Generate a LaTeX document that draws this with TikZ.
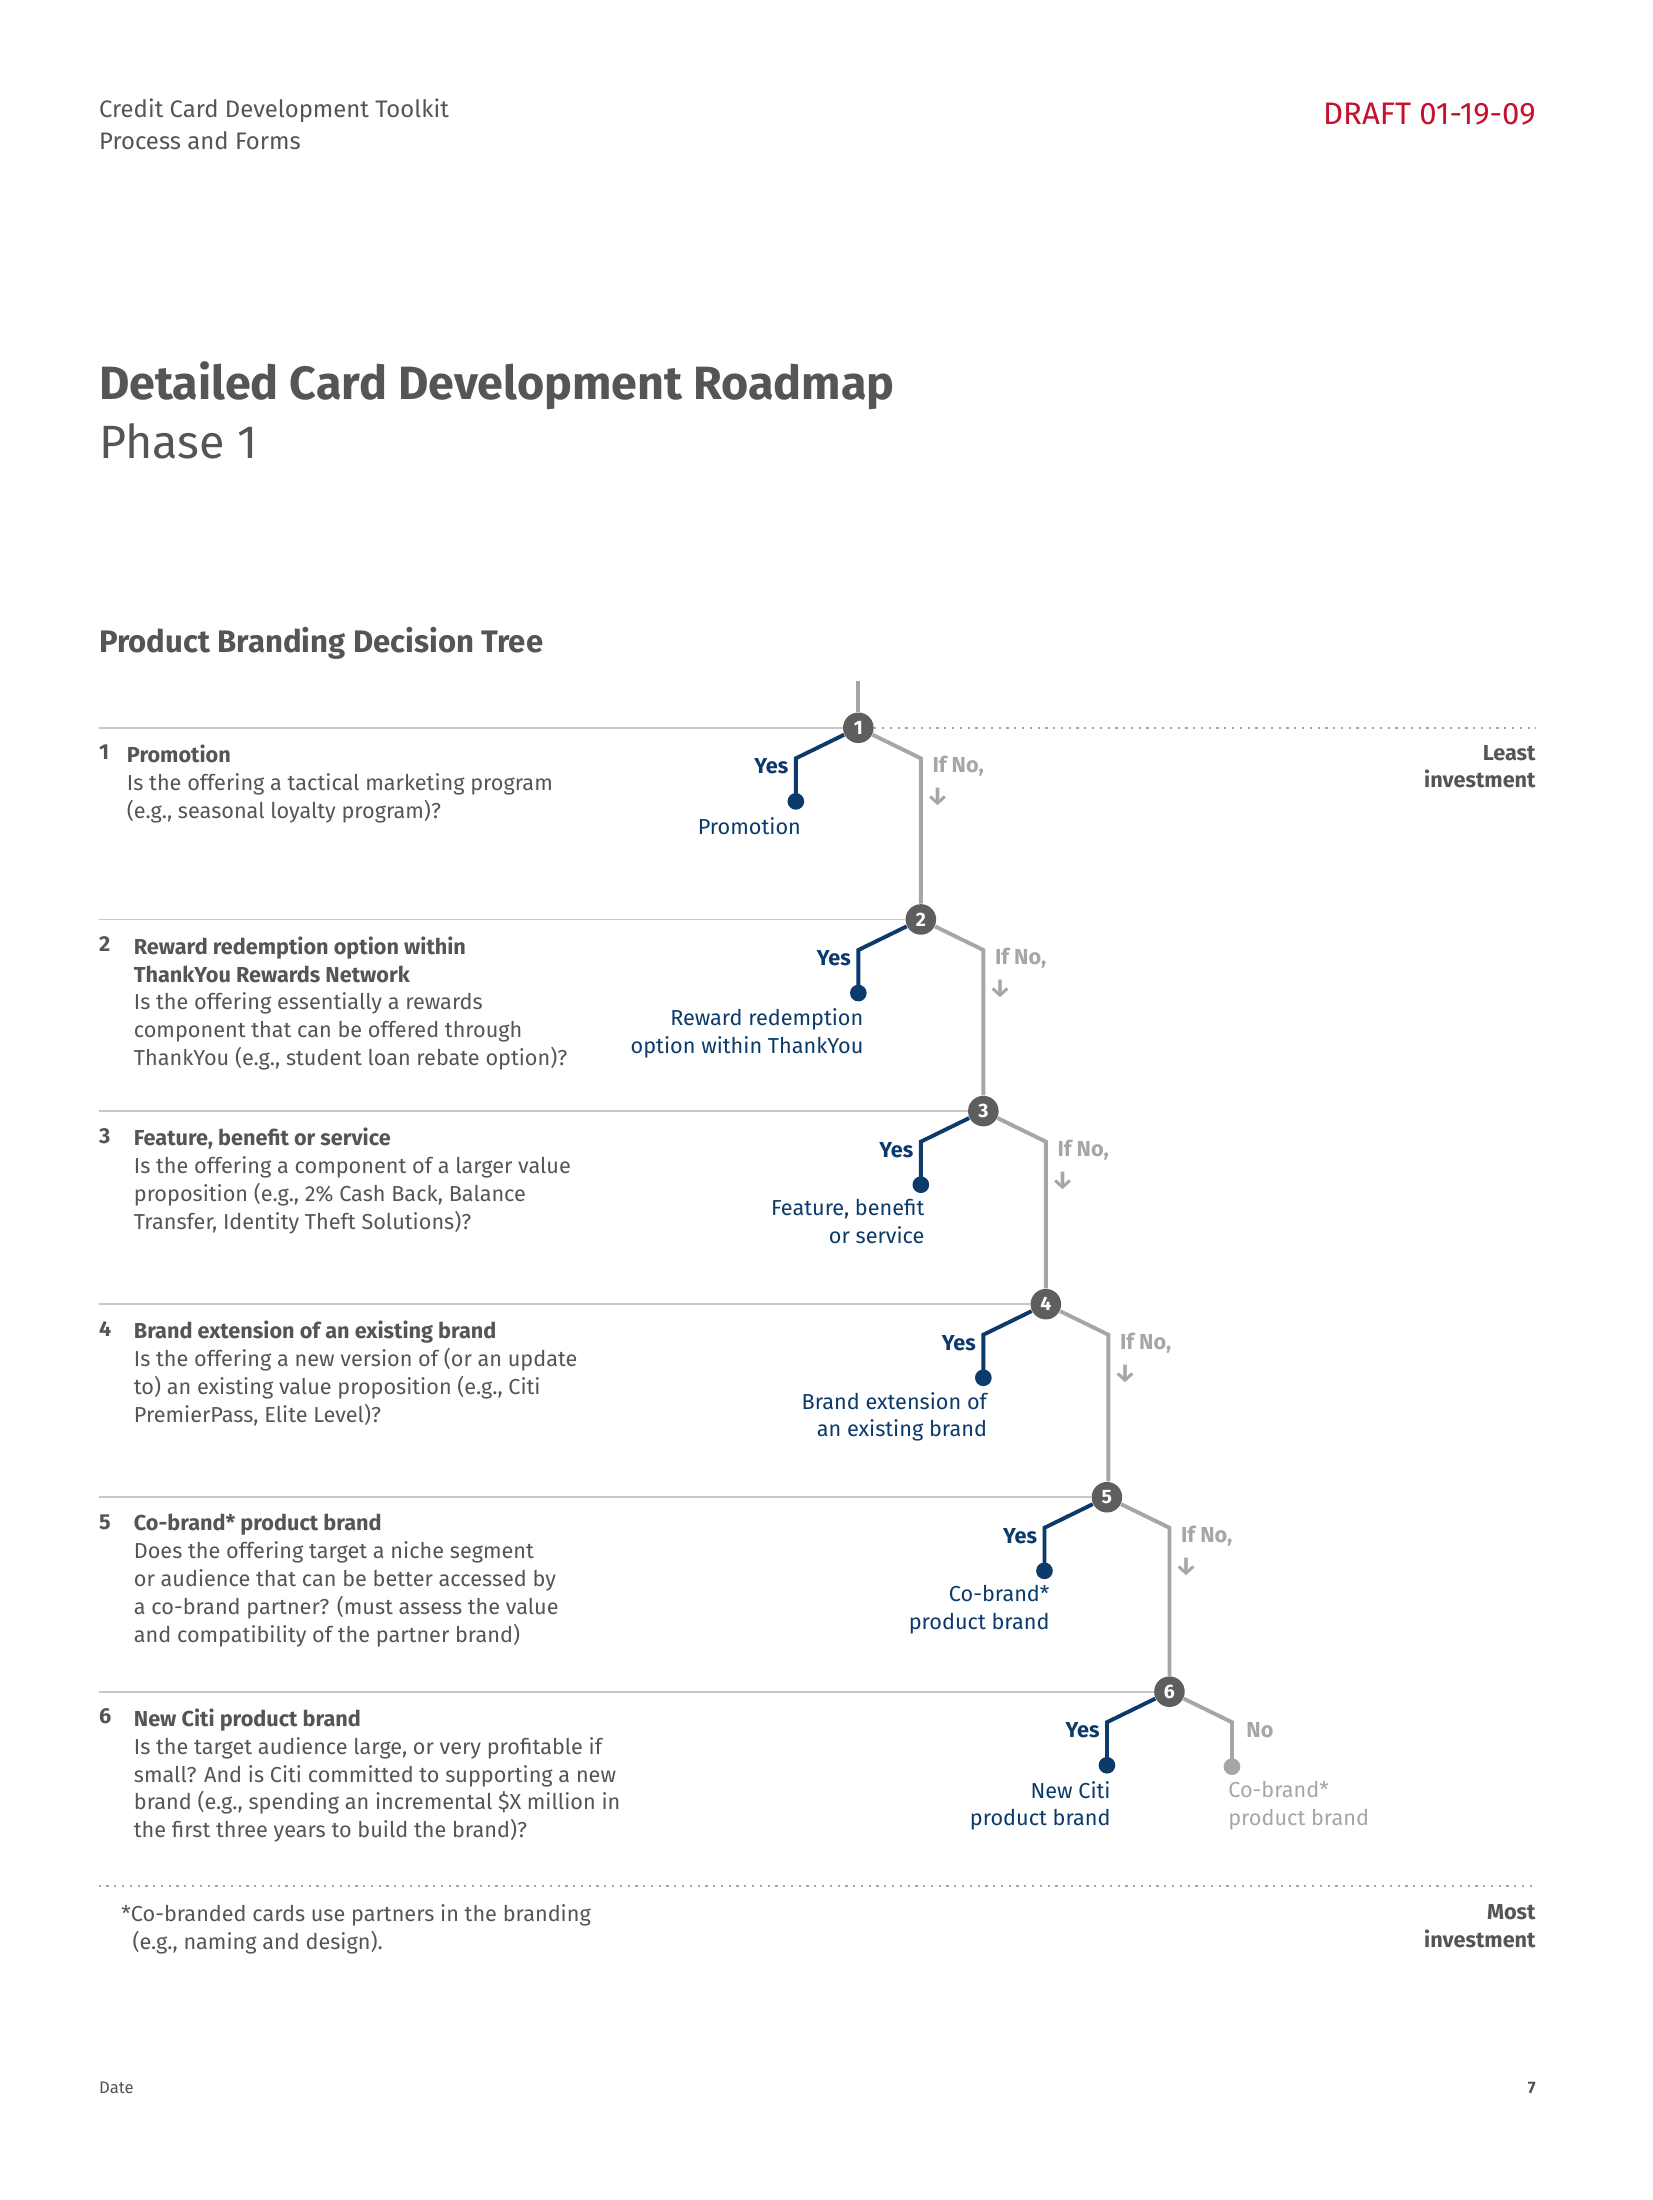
\documentclass[tikz,border=0pt]{standalone}
\usepackage{fontspec}
\setmainfont{Fira Sans}
\definecolor{cblue}{HTML}{0B3A6B}
\definecolor{ctext}{HTML}{555555}
\definecolor{cline}{HTML}{C8C8C8}
\definecolor{cbr}{HTML}{A6A6A6}
\definecolor{cnode}{HTML}{5E5E5E}
\definecolor{cred}{HTML}{C8102E}
\begin{document}
\begin{tikzpicture}[x=0.5pt,y=-0.5pt,
  body/.style={inner sep=0pt,font=\fontsize{7.8}{10}\selectfont,text=ctext,align=left,anchor=north west},
  bodyr/.style={body,align=right,anchor=north east},
  dnum/.style={circle,fill=cnode,inner sep=0pt,minimum size=11pt,text=white,font=\fontsize{7}{7}\selectfont\bfseries},
  yesb/.style={draw=cblue,line width=1.4pt},
  nob/.style={draw=cbr,line width=1.4pt},
  ylab/.style={inner sep=0pt,font=\fontsize{7.8}{10}\selectfont\bfseries,text=cblue,anchor=east},
  nlab/.style={inner sep=0pt,font=\fontsize{7.8}{10}\selectfont\bfseries,text=cbr,anchor=west},
  outb/.style={bodyr,text=cblue},
  rowline/.style={draw=cline,line width=0.6pt},
  dotline/.style={draw=cbr,line width=0.8pt,dotted}]
\useasboundingbox (0,0) rectangle (1190,1584);
\fill[white] (0,0) rectangle (1190,1584);
% header
\node[body,anchor=west,font=\fontsize{8.6}{10.5}\selectfont] (h1) at (71,80) {Credit Card Development Toolkit};
\node[body,anchor=west,font=\fontsize{8.6}{10.5}\selectfont] (h2) at (71,101) {Process and Forms};
\node[inner sep=0pt,anchor=east,text=cred,font=\fontsize{11.2}{13}\selectfont] (draft) at (1106,82) {DRAFT 01-19-09};
\node[inner sep=0pt,anchor=west,text=ctext,font=\fontsize{16.8}{20}\selectfont\bfseries] (title) at (71,278) {Detailed Card Development Roadmap};
\node[inner sep=0pt,anchor=west,text=ctext,font=\fontsize{16.8}{20}\selectfont] (phase) at (71,318) {Phase 1};
\node[inner sep=0pt,anchor=west,text=ctext,font=\fontsize{11.2}{13}\selectfont\bfseries] (sub) at (71,463) {Product Branding Decision Tree};
% lines
\coordinate (top) at (618,490);
\foreach \i/\x/\y in {1/618/524,2/663/662,3/708/800,4/753/939,5/797/1078,6/842/1218}{
  \coordinate (L\i) at (71,\y);
  \node[dnum] (n\i) at (\x,\y) {\i};
  \draw[rowline] (L\i) -- (n\i.west);
  \coordinate (ya\i) at (\x-45,\y+22);
  \coordinate (yb\i) at (\x-45,\y+53);
  \draw[yesb] (n\i) -- (ya\i) -- (yb\i);
  \fill[cblue] (yb\i) circle (3pt);
  \node[ylab] (yes\i) at (\x-50,\y+28) {Yes};
  \coordinate (na\i) at (\x+45,\y+22);
}
\coordinate (R1) at (1106,524);
\draw[dotline] (n1.east) -- (R1);
\draw[nob] (top) -- (n1);
\foreach \i/\j in {1/2,2/3,3/4,4/5,5/6}{
  \draw[nob] (n\i) -- (na\i) -- (na\i |- n\j.north);
}
\foreach \i/\x/\y in {1/618/524,2/663/662,3/708/800,4/753/939,5/797/1078}{
  \node[nlab] (no\i) at (\x+53,\y+28) {If No,};
  \node[inner sep=0pt,text=cbr,font=\fontsize{9}{10}\selectfont\bfseries] (ar\i) at (\x+57,\y+50) {↓};
}
\coordinate (nb6) at (887,1272);
\draw[nob] (n6) -- (na6) -- (nb6);
\fill[cbr] (nb6) circle (3pt);
\node[nlab] (no6) at (897,1246) {No};
% outcomes
\node[outb] (o1) at (577,588) {Promotion};
\node[outb] (o2) at (622,726) {Reward redemption\\option within ThankYou};
\node[outb] (o3) at (666,863) {Feature, benefit\\or service};
\node[outb] (o4) at (711,1002) {Brand extension of\\an existing brand};
\node[outb] (o5) at (756,1141) {Co-brand*\\product brand};
\node[outb] (o6) at (800,1282) {New Citi\\product brand};
\node[body,text=cbr] (o7) at (884,1282) {Co-brand*\\product brand};
% left text
\node[body] (q1n) at (71,536) {\textbf{1}};
\node[body] (q1) at (91,536) {\textbf{Promotion}\\Is the offering a tactical marketing program\\(e.g., seasonal loyalty program)?};
\node[body] (q2n) at (71,674) {\textbf{2}};
\node[body] (q2) at (96,674) {\textbf{Reward redemption option within}\\\textbf{ThankYou Rewards Network}\\Is the offering essentially a rewards\\component that can be offered through\\ThankYou (e.g., student loan rebate option)?};
\node[body] (q3n) at (71,812) {\textbf{3}};
\node[body] (q3) at (96,812) {\textbf{Feature, benefit or service}\\Is the offering a component of a larger value\\proposition (e.g., 2\% Cash Back, Balance\\Transfer, Identity Theft Solutions)?};
\node[body] (q4n) at (71,951) {\textbf{4}};
\node[body] (q4) at (96,951) {\textbf{Brand extension of an existing brand}\\Is the offering a new version of (or an update\\to) an existing value proposition (e.g., Citi\\PremierPass, Elite Level)?};
\node[body] (q5n) at (71,1090) {\textbf{5}};
\node[body] (q5) at (96,1090) {\textbf{Co-brand* product brand}\\Does the offering target a niche segment\\or audience that can be better accessed by\\a co-brand partner? (must assess the value\\and compatibility of the partner brand)};
\node[body] (q6n) at (71,1230) {\textbf{6}};
\node[body] (q6) at (96,1230) {\textbf{New Citi product brand}\\Is the target audience large, or very profitable if\\small? And is Citi committed to supporting a new\\brand (e.g., spending an incremental \$X million in\\the first three years to build the brand)?};
% right
\node[bodyr,font=\fontsize{7.8}{10}\selectfont\bfseries] (least) at (1106,536) {Least\\investment};
\coordinate (d1) at (71,1358);
\coordinate (d2) at (1106,1358);
\draw[dotline] (d1) -- (d2);
\node[bodyr,font=\fontsize{7.8}{10}\selectfont\bfseries] (most) at (1106,1371) {Most\\investment};
\node[body] (fn) at (87,1371) {*Co-branded cards use partners in the branding\\\hspace*{4pt}(e.g., naming and design).};
\node[body,anchor=west,font=\fontsize{6}{8}\selectfont] (date) at (71,1503) {Date};
\node[body,anchor=east,font=\fontsize{6}{8}\selectfont\bfseries] (pg) at (1106,1503) {7};
\end{tikzpicture}
\end{document}
